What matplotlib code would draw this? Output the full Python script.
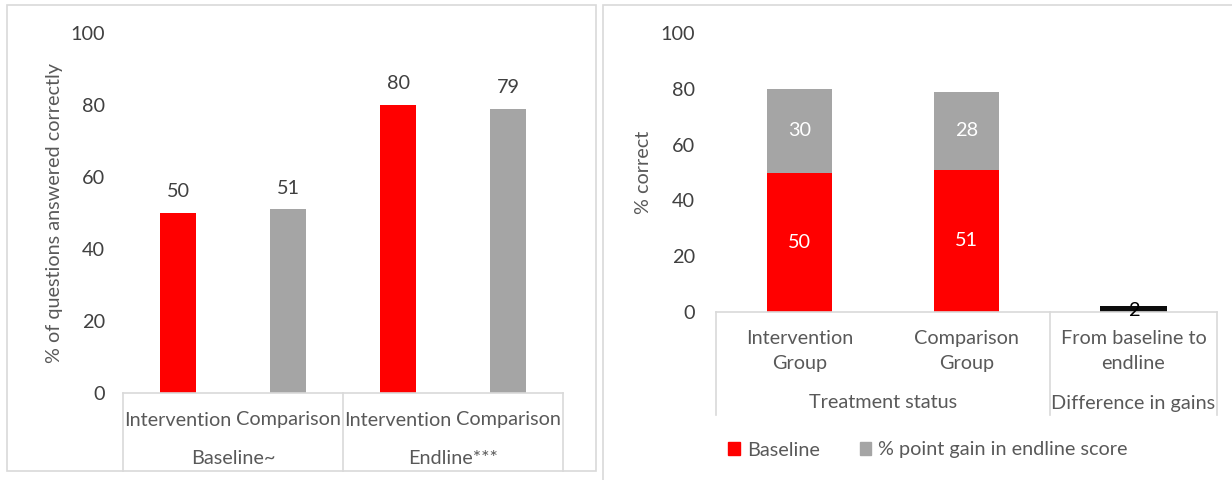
import matplotlib
matplotlib.use('Agg')
import matplotlib.pyplot as plt
import matplotlib.transforms as mtransforms
from matplotlib import rcParams
from matplotlib.lines import Line2D
from matplotlib.patches import Rectangle, Patch

rcParams['font.family'] = 'Lato'
rcParams['font.size'] = 14
rcParams['axes.unicode_minus'] = False

# left panel: share of questions answered correctly
groups_left = ['Baseline~', 'Endline***']
arms_left = ['Intervention', 'Comparison', 'Intervention', 'Comparison']
scores_left = [50, 51, 80, 79]
colors_left = ['#FF0000', '#A5A5A5', '#FF0000', '#A5A5A5']

# right panel: stacked baseline + gain, plus difference in gains
cats_right = ['Intervention\nGroup', 'Comparison\nGroup', 'From baseline to\nendline']
groups_right = ['Treatment status', 'Difference in gains']
baseline = [50, 51, 0]
gain = [30, 28, 0]
diff_gain = [0, 0, 2]

yticks = [0, 20, 40, 60, 80, 100]
W, H = 1232, 480
GRID = '#D9D9D9'
TXT = '#595959'
TICK = '#404040'
FS = 14.3


def px(x, y):
    return x / W, 1 - y / H


fig = plt.figure(figsize=(W / 100, H / 100), dpi=100)

# panel frames
fig.add_artist(Rectangle(px(7, 471), 589 / W, 466 / H, transform=fig.transFigure,
                         fill=False, ec=GRID, lw=1.2))
fig.add_artist(Rectangle(px(603, 500), 700 / W, 495 / H, transform=fig.transFigure,
                         fill=False, ec=GRID, lw=1.2))

# ---- left chart ----
ax1 = fig.add_axes([123 / W, 1 - 393 / H, 440 / W, 360 / H])
x1 = range(len(scores_left))
bars = ax1.bar(x1, scores_left, width=0.32, color=colors_left)
for b, v in zip(bars, scores_left):
    ax1.text(b.get_x() + b.get_width() / 2, v + 3.5, str(v), ha='center',
             va='bottom', fontsize=FS, color=TICK)
ax1.set_xlim(-0.5, 3.5)
ax1.set_ylim(0, 100)
ax1.set_yticks(yticks)
ax1.tick_params(axis='y', length=0, pad=13, labelsize=FS, labelcolor=TICK)
ax1.set_xticks([])
for s in ax1.spines.values():
    s.set_visible(False)
ax1.set_ylabel('% of questions answered correctly', fontsize=FS,
               color=TXT, labelpad=5)

tr1 = mtransforms.blended_transform_factory(ax1.transData, fig.transFigure)
y0 = 1 - 393 / H
ybot = 1 - 471 / H
ax1.add_line(Line2D([-0.5, 3.5], [y0, y0], transform=tr1, color=GRID,
                    lw=1.2, clip_on=False))
for xs in [-0.5, 1.5, 3.5]:
    ax1.add_line(Line2D([xs, xs], [y0, ybot], transform=tr1, color=GRID,
                        lw=1.2, clip_on=False))
for i, lab in enumerate(arms_left):
    ax1.text(i, 1 - 420 / H, lab, transform=tr1, ha='center', va='center',
             fontsize=FS, color=TXT)
for i, lab in enumerate(groups_left):
    ax1.text(0.5 + 2 * i, 1 - 459 / H, lab, transform=tr1, ha='center',
             va='center', fontsize=FS, color=TXT)

# ---- right chart ----
ax2 = fig.add_axes([716 / W, 1 - 312 / H, 501 / W, 279 / H])
x2 = range(len(cats_right))
ax2.bar(x2, baseline, width=0.385, color='#FF0000',
        label='Baseline')
ax2.bar(x2, gain, width=0.385, bottom=baseline, color='#A5A5A5',
        label='% point gain in endline score')
ax2.bar(x2, diff_gain, width=0.40, color='#0D0D0D')
for i in range(2):
    ax2.text(i, baseline[i] / 2, str(baseline[i]), ha='center', va='center',
             fontsize=FS, color='white')
    ax2.text(i, baseline[i] + gain[i] / 2, str(gain[i]), ha='center',
             va='center', fontsize=FS, color='white')
ax2.text(2, diff_gain[2] / 2 - 0.5, str(diff_gain[2]), ha='center',
         va='center', fontsize=FS, color='black')
ax2.set_xlim(-0.5, 2.5)
ax2.set_ylim(0, 100)
ax2.set_yticks(yticks)
ax2.tick_params(axis='y', length=0, pad=15, labelsize=FS, labelcolor=TICK)
ax2.set_xticks([])
for s in ax2.spines.values():
    s.set_visible(False)
ax2.set_ylabel('% correct', fontsize=FS, color=TXT, labelpad=6)

tr2 = mtransforms.blended_transform_factory(ax2.transData, fig.transFigure)
y0 = 1 - 312 / H
ybot = 1 - 415 / H
ax2.add_line(Line2D([-0.5, 2.5], [y0, y0], transform=tr2, color=GRID,
                    lw=1.2, clip_on=False))
for xs in [-0.5, 1.5, 2.5]:
    ax2.add_line(Line2D([xs, xs], [y0, ybot], transform=tr2, color=GRID,
                        lw=1.2, clip_on=False))
for i, lab in enumerate(cats_right):
    ax2.text(i, 1 - 351 / H, lab, transform=tr2, ha='center', va='center',
             fontsize=FS, color=TXT, linespacing=1.6)
ax2.text(0.5, 1 - 403 / H, groups_right[0], transform=tr2, ha='center',
         va='center', fontsize=FS, color=TXT)
ax2.text(2, 1 - 403 / H, groups_right[1], transform=tr2, ha='center',
         va='center', fontsize=FS, color=TXT)

handles = [Patch(color='#FF0000'), Patch(color='#A5A5A5')]
fig.legend(handles, ['Baseline', '% point gain in endline score'],
           loc='center', bbox_to_anchor=px(928, 450), ncol=2, frameon=False,
           handlelength=0.6, handleheight=0.6, handletextpad=0.35,
           columnspacing=2.0, fontsize=FS, labelcolor=TXT)

fig.savefig('out.png', dpi=100)
